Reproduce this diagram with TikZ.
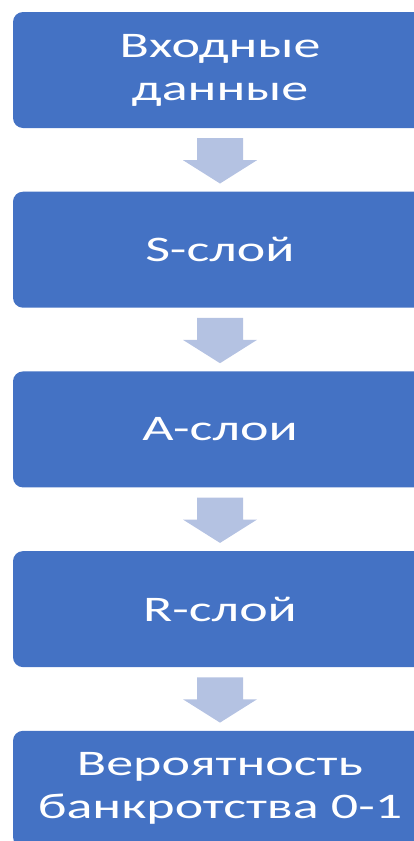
\documentclass[tikz,border=0pt]{standalone}
\usepackage{fontspec}
\newfontfamily\boxfont[FakeStretch=1.5]{Carlito}
\usetikzlibrary{positioning}
\usetikzlibrary{calc}
\definecolor{boxblue}{RGB}{68,114,196}
\definecolor{arrowblue}{RGB}{180,194,226}
\tikzset{
  layer box/.style={
    rectangle,
    rounded corners=10pt,
    fill=boxblue,
    text=white,
    minimum width=414pt,
    minimum height=116pt,
    align=center,
    font=\boxfont\fontsize{36}{43}\selectfont,
  }
}
\tikzset{
  flow arrow/.style={
    fill=arrowblue,
  }
}

\begin{document}
\begin{tikzpicture}[
    x=1pt,y=1pt,
    node distance=63.3pt,
    ]
    \useasboundingbox (0,0) rectangle (414,-841);
    \clip (0,0) rectangle (414,-841);

    \node[layer box] (input) at (220,-70) {Входные\\данные};
    \node[layer box, below=of input] (slayer) {S-слой};
    \node[layer box, below=of slayer] (alayer) {A-слои};
    \node[layer box, below=of alayer] (rlayer) {R-слой};
    \node[layer box, below=of rlayer] (output) {Вероятность\\банкротства 0-1};

    \foreach \x/\y in {input/slayer,slayer/alayer,alayer/rlayer,rlayer/output}{
      \fill[flow arrow] ($(\x.south)+(-23,-10)$) -- ($(\x.south)+(23,-10)$)
        -- ($(\x.south)+(23,-32)$) -- ($(\x.south)+(37,-32)$)
        -- ($(\y.north)+(0,8)$)
        -- ($(\x.south)+(-37,-32)$) -- ($(\x.south)+(-23,-32)$) -- cycle;
    }

\end{tikzpicture}
\end{document}
